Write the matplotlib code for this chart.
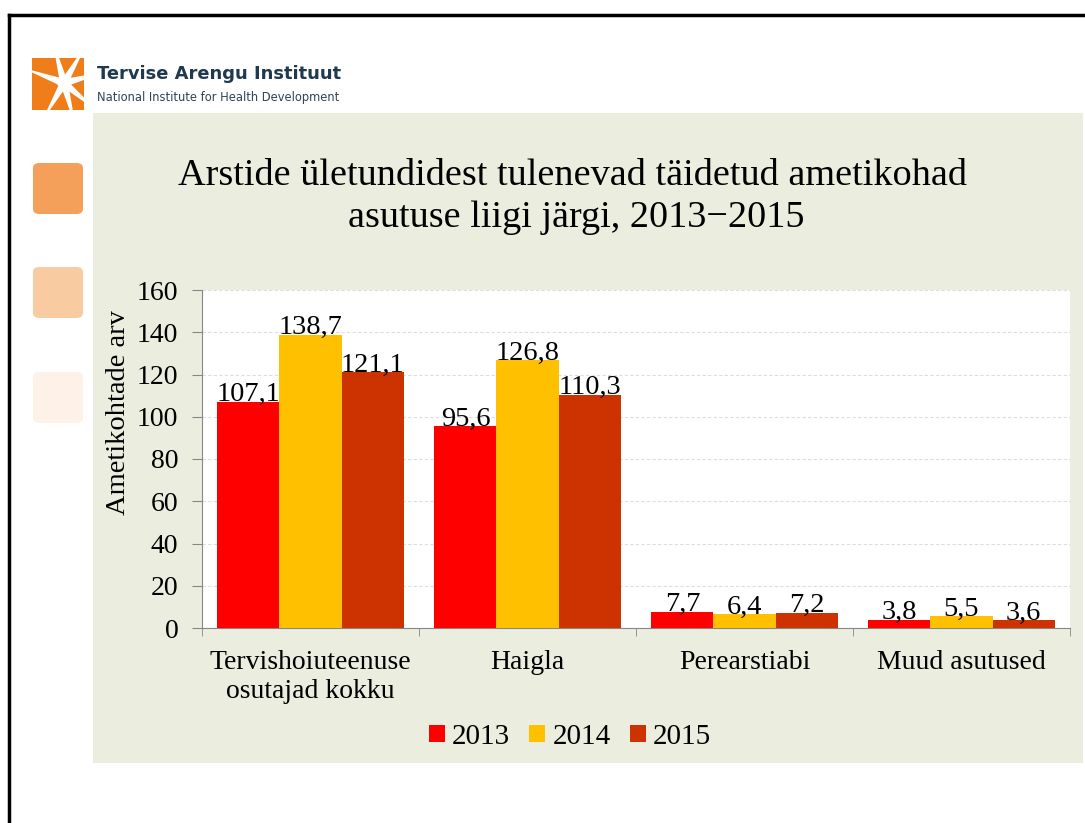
import matplotlib.pyplot as plt
from matplotlib.patches import Rectangle, FancyBboxPatch, Polygon
import numpy as np

plt.rcParams['font.family'] = ['Liberation Serif', 'DejaVu Serif']

# --- data ---
categories = ["Tervishoiuteenuse\nosutajad kokku", "Haigla", "Perearstiabi", "Muud asutused"]
years = ["2013", "2014", "2015"]
values_2013 = [107.1, 95.6, 7.7, 3.8]
values_2014 = [138.7, 126.8, 6.4, 5.5]
values_2015 = [121.1, 110.3, 7.2, 3.6]
colors = ["#FF0000", "#FFC000", "#CC3300"]

W, H = 1085, 823
fig = plt.figure(figsize=(W / 100, H / 100), dpi=100)
fig.patch.set_facecolor("white")

def fx(px):
    return px / W

def fy(py):
    return 1 - py / H

# slide frame
fig.add_artist(plt.Line2D([fx(9), fx(9)], [fy(15), 0], color="black", lw=2.5))
fig.add_artist(plt.Line2D([fx(9), 1], [fy(15), fy(15)], color="black", lw=2.5))

# green panel
fig.add_artist(Rectangle((fx(93), fy(763)), fx(1083) - fx(93), fy(113) - fy(763),
                         transform=fig.transFigure, facecolor="#EBEEDF", edgecolor="none"))

# side squares
for top, col in [(163, "#F5A05A"), (267, "#F9CBA0"), (372, "#FDF1E8")]:
    fig.add_artist(FancyBboxPatch((fx(33), fy(top + 51)), fx(50), fy(0) - fy(51),
                                  boxstyle="round,pad=0,rounding_size=0.006",
                                  transform=fig.transFigure, facecolor=col, edgecolor="none"))

# logo
fig.add_artist(Rectangle((fx(32), fy(110)), fx(52), fy(0) - fy(52),
                         transform=fig.transFigure, facecolor="#EE7D1A", edgecolor="none"))
cx, cy = 64, 83
for ang in [160, 105, 60, 15, -40, -75, -120]:
    a = np.deg2rad(ang)
    p = np.deg2rad(ang + 90)
    pts = [(cx + 4 * np.cos(p), cy - 4 * np.sin(p)),
           (cx - 4 * np.cos(p), cy + 4 * np.sin(p)),
           (cx + 45 * np.cos(a), cy - 45 * np.sin(a))]
    fig.add_artist(Polygon([(fx(x), fy(y)) for x, y in pts], closed=True,
                           transform=fig.transFigure, facecolor="white", edgecolor="none"))
fig.add_artist(plt.Circle((fx(cx), fy(cy)), fx(7), transform=fig.transFigure,
                          facecolor="white", edgecolor="none"))
fig.add_artist(Rectangle((fx(84), fy(112)), fx(12), fy(0) - fy(60),
                         transform=fig.transFigure, facecolor="white", edgecolor="none"))
fig.add_artist(Rectangle((fx(28), fy(58)), fx(68), fy(0) - fy(10),
                         transform=fig.transFigure, facecolor="white", edgecolor="none"))
fig.add_artist(Rectangle((fx(28), fy(118)), fx(65), fy(0) - fy(8),
                         transform=fig.transFigure, facecolor="white", edgecolor="none"))
fig.text(fx(97), fy(74), "Tervise Arengu Instituut", family="DejaVu Sans", weight="bold",
         fontsize=12.9, color="#1F3A4E", va="center")
fig.text(fx(97), fy(97), "National Institute for Health Development", family="DejaVu Sans",
         fontsize=8.3, color="#2E4556", va="center")

# title
fig.text(fx(572), fy(176), "Arstide ületundidest tulenevad täidetud ametikohad",
         ha="center", va="center", fontsize=27.5)
fig.text(fx(576), fy(218), "asutuse liigi järgi, 2013\u22122015",
         ha="center", va="center", fontsize=27.5)

# chart
ax = fig.add_axes([fx(202), fy(628), fx(1070) - fx(202), fy(290) - fy(628)])
ax.set_zorder(5)
ax.set_facecolor("white")
x = np.arange(len(categories))
bw = 0.286
series = [values_2013, values_2014, values_2015]
for i, (vals, col, yr) in enumerate(zip(series, colors, years)):
    bars = ax.bar(x + (i - 1) * bw, vals, bw, color=col, label=yr, zorder=3)
    for b, v in zip(bars, vals):
        ax.text(b.get_x() + b.get_width() / 2, v + 0.3, f"{v:.1f}".replace(".", ","),
                ha="center", va="baseline", fontsize=20.5, zorder=4)

ax.set_xlim(-0.5, 3.5)
ax.set_ylim(0, 160)
ax.set_yticks(range(0, 161, 20))
ax.yaxis.grid(True, color="#DDDDDD", linestyle=(0, (3, 2)), lw=0.8, zorder=0)
ax.set_xticks(x)
ax.set_xticklabels(categories, fontsize=20)
ax.set_xticks(np.arange(-0.5, 3.6, 1), minor=True)
ax.tick_params(axis="x", which="major", length=0, pad=16)
ax.tick_params(axis="x", which="minor", length=5.5, color="#868686")
ax.tick_params(axis="y", labelsize=20, length=7, color="#868686", pad=10)
for s in ["top", "right"]:
    ax.spines[s].set_visible(False)
for s in ["left", "bottom"]:
    ax.spines[s].set_color("#868686")
ax.set_ylabel("Ametikohtade arv", fontsize=20.5)
ax.yaxis.set_label_coords(-0.082, 0.636)

leg = ax.legend(loc="center", bbox_to_anchor=(fx(570), fy(737)),
                bbox_transform=fig.transFigure, ncol=3, frameon=False,
                fontsize=21, handlelength=0.55, handleheight=0.55, handletextpad=0.25,
                columnspacing=0.65)

fig.savefig("out.png", dpi=100, facecolor="white")
